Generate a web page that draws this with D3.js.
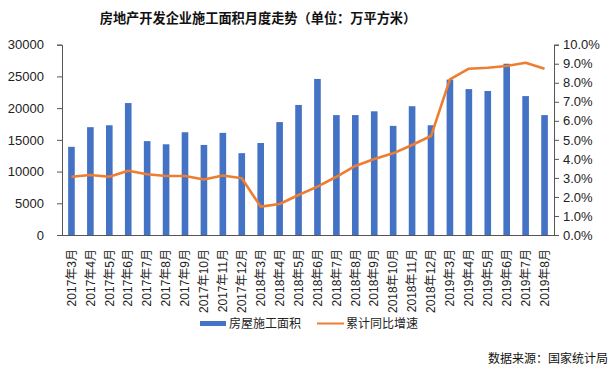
<!DOCTYPE html>
<html><head><meta charset="utf-8">
<script src="https://cdn.jsdelivr.net/npm/d3@7"></script>
<style>body{margin:0;background:#fff}svg{display:block}text{font-family:"Liberation Sans","Noto Sans CJK SC",sans-serif}</style>
</head><body><svg id="c" width="614" height="372"></svg>
<script>
const categories = ["2017年3月","2017年4月","2017年5月","2017年6月","2017年7月","2017年8月","2017年9月","2017年10月","2017年11月","2017年12月","2018年3月","2018年4月","2018年5月","2018年6月","2018年7月","2018年8月","2018年9月","2018年10月","2018年11月","2018年12月","2019年3月","2019年4月","2019年5月","2019年6月","2019年7月","2019年8月"];
const areaValues = [13900,17000,17300,20800,14800,14300,16200,14200,16100,12900,14500,17800,20500,24600,18900,18900,19500,17200,20300,17300,24500,23000,22700,27000,21900,18900];
const growthValues = [3.06,3.15,3.06,3.38,3.19,3.1,3.1,2.92,3.13,2.98,1.49,1.63,2.1,2.54,3.06,3.63,3.99,4.29,4.73,5.2,8.18,8.74,8.79,8.88,9.05,8.74];
const leftTicks = [0,5000,10000,15000,20000,25000,30000];
const rightTicks = [0,1,2,3,4,5,6,7,8,9,10];
const seriesNames = ["房屋施工面积","累计同比增速"];
const titleText = "房地产开发企业施工面积月度走势（单位：万平方米）";
const sourceText = "数据来源：国家统计局";

const svg = d3.select("#c");
const L = 62, R = 554, T = 44.7, B = 235;
const x = d3.scaleBand().domain(categories).range([L, R]).paddingInner(0.65).paddingOuter(0.325);
const xc = d3.scaleBand().domain(categories).range([L, R]);
const yL = d3.scaleLinear().domain([0, 30000]).range([B, T]);
const yR = d3.scaleLinear().domain([0, 10]).range([B, T]);

svg.append("text").attr("x", 258).attr("y", 23).attr("text-anchor", "middle")
  .attr("font-size", 13.2).attr("font-weight", "bold").attr("fill", "#111")
  .style("font-family", '"Noto Sans CJK SC",sans-serif').text(titleText);

svg.selectAll("rect.bar").data(areaValues).join("rect").attr("class", "bar")
  .attr("x", (d, i) => x(categories[i])).attr("width", x.bandwidth())
  .attr("y", d => yL(d)).attr("height", d => B - yL(d)).attr("fill", "#4472C4");

const line = d3.line().x((d, i) => xc(categories[i]) + xc.bandwidth() / 2).y(d => yR(d));
svg.append("path").datum(growthValues).attr("d", line).attr("fill", "none")
  .attr("stroke", "#ED7D31").attr("stroke-width", 2.6).attr("stroke-linejoin", "round");

const gl = svg.append("g").attr("transform", `translate(${L},0)`)
  .call(d3.axisLeft(yL).tickValues(leftTicks).tickSize(5).tickPadding(13).tickFormat(d3.format("d")));
const gr = svg.append("g").attr("transform", `translate(${R},0)`)
  .call(d3.axisRight(yR).tickValues(rightTicks).tickSize(5).tickPadding(4).tickFormat(d => d.toFixed(1) + "%"));
[gl, gr].forEach(g => {
  g.select(".domain").attr("stroke", "#555").attr("stroke-width", 1);
  g.selectAll(".tick line").attr("stroke", "#555");
  g.selectAll("text").attr("font-size", 13).attr("fill", "#222").style("font-family", '"Liberation Sans",sans-serif');
});
const gx = svg.append("g").attr("transform", `translate(0,${B})`).call(d3.axisBottom(xc).tickSize(0).tickPadding(0));
gx.select(".domain").attr("stroke", "#555").attr("stroke-width", 1).attr("d", `M${L},0.5H${R}`);
gx.selectAll("text").attr("transform", "rotate(-90)").attr("text-anchor", "end")
  .attr("x", -14).attr("y", 0).attr("dy", "0.35em").attr("font-size", 12).attr("fill", "#222")
  .style("font-family", '"Liberation Sans","Noto Sans CJK SC",sans-serif');

const lg = svg.append("g");
lg.append("rect").attr("x", 200).attr("y", 321).attr("width", 26).attr("height", 5).attr("fill", "#4472C4");
lg.append("text").attr("x", 229).attr("y", 328).attr("font-size", 12).attr("fill", "#222")
  .style("font-family", '"Noto Sans CJK SC",sans-serif').text(seriesNames[0]);
lg.append("line").attr("x1", 317).attr("x2", 344).attr("y1", 323.5).attr("y2", 323.5).attr("stroke", "#ED7D31").attr("stroke-width", 2);
lg.append("text").attr("x", 346).attr("y", 328).attr("font-size", 12).attr("fill", "#222")
  .style("font-family", '"Noto Sans CJK SC",sans-serif').text(seriesNames[1]);

svg.append("text").attr("x", 608).attr("y", 363).attr("text-anchor", "end").attr("font-size", 12).attr("fill", "#111")
  .style("font-family", '"Noto Sans CJK SC",sans-serif').text(sourceText);
</script></body></html>
